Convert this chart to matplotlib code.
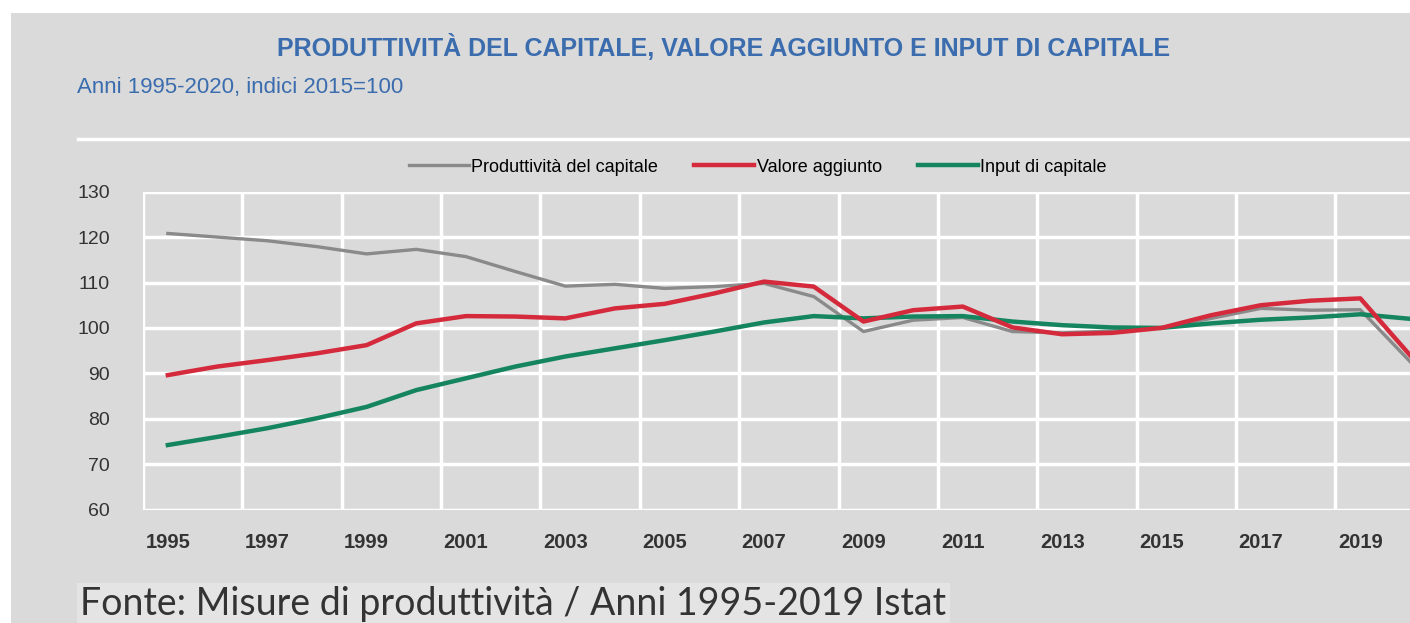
import matplotlib.pyplot as plt
import numpy as np

# dati (indici 2015=100)
anni = list(range(1995, 2021))
produttivita = [120.8, 120.0, 119.2, 117.9, 116.3, 117.3, 115.7, 112.4, 109.2, 109.6,
                108.7, 109.1, 109.8, 106.9, 99.2, 101.7, 102.3, 99.2, 98.9, 99.3,
                100.0, 102.1, 104.3, 103.9, 104.0, 92.6]
valore_aggiunto = [89.6, 91.5, 92.9, 94.4, 96.2, 101.0, 102.6, 102.5, 102.1, 104.3,
                   105.3, 107.6, 110.2, 109.1, 101.4, 103.9, 104.7, 100.1, 98.6, 98.9,
                   100.0, 102.8, 105.0, 106.0, 106.5, 94.0]
input_capitale = [74.2, 76.0, 77.9, 80.1, 82.6, 86.3, 88.9, 91.5, 93.7, 95.5,
                  97.3, 99.2, 101.2, 102.6, 102.1, 102.5, 102.6, 101.4, 100.6, 100.1,
                  100.0, 101.0, 101.8, 102.3, 103.0, 102.0]
tick_anni = list(range(1995, 2020, 2))
tick_y = list(range(60, 131, 10))

bg = '#dadada'
narrow = ['Liberation Sans', 'DejaVu Sans']

fig = plt.figure(figsize=(14.1, 6.23), dpi=100, facecolor='white')
# pannello grigio
fig.patches.append(plt.Rectangle((11 / 1410, 0), 1, 1 - 13 / 623, transform=fig.transFigure,
                                 facecolor=bg, edgecolor='none', zorder=-10))
# riquadro della fonte
fig.patches.append(plt.Rectangle((77 / 1410, 0), (950 - 77) / 1410, 40 / 623,
                                 transform=fig.transFigure, facecolor='#e4e4e4',
                                 edgecolor='none', zorder=-9))
# linea bianca sotto il sottotitolo
fig.add_artist(plt.Line2D([78 / 1410, 1], [1 - 139 / 623] * 2, color='white', lw=2.5))

ax = fig.add_axes([143 / 1410, 1 - 509.5 / 623, 1 - 143 / 1410, (509.5 - 191.7) / 623])
ax.set_facecolor(bg)

ax.plot(anni, produttivita, color='#8a8a8a', lw=2.4, label='Produttività del capitale', zorder=3)
ax.plot(anni, valore_aggiunto, color='#d42a3c', lw=3.2, label='Valore aggiunto', zorder=4)
ax.plot(anni, input_capitale, color='#14855f', lw=3.2, label='Input di capitale', zorder=3)

ax.set_xlim(1994.5, 2020.0)
ax.set_ylim(60, 130)
ax.set_xticks(tick_anni)
ax.set_xticks(np.arange(1994.5, 2020, 2), minor=True)
ax.set_yticks(tick_y)
ax.grid(True, which='major', axis='y', color='white', lw=2.5)
ax.grid(True, which='minor', axis='x', color='white', lw=2.5)
ax.tick_params(which='both', length=0)
ax.tick_params(axis='x', pad=17)
ax.tick_params(axis='y', pad=24)
for s in ax.spines.values():
    s.set_visible(False)
ax.set_axisbelow(True)

for lab in ax.get_xticklabels():
    lab.set_family(narrow)
    lab.set_fontsize(14.5)
    lab.set_fontweight('bold')
    lab.set_color('#333333')
for lab in ax.get_yticklabels():
    lab.set_family(narrow)
    lab.set_fontsize(14)
    lab.set_color('#333333')

fig.legend(loc='center', bbox_to_anchor=(758 / 1410, 1 - 167 / 623), ncol=3, frameon=False,
           prop={'family': narrow, 'size': 13}, handlelength=3.3, handletextpad=0.15,
           columnspacing=2.0)

fig.text(724 / 1410, 1 - 47 / 623, 'PRODUTTIVITÀ DEL CAPITALE, VALORE AGGIUNTO E INPUT DI CAPITALE',
         ha='center', va='center', family=narrow, fontsize=18, fontweight='bold', color='#3a6cae')
fig.text(77 / 1410, 1 - 88 / 623, 'Anni 1995-2020, indici 2015=100',
         ha='left', va='center', family=narrow, fontsize=16, color='#3a6cae')
fig.text(80 / 1410, 1 - 604 / 623, 'Fonte: Misure di produttività / Anni 1995-2019 Istat',
         ha='left', va='center', family=['Lato', 'DejaVu Sans'], fontsize=27, color='#333333')

fig.savefig('out.png', dpi=100, facecolor='white')
